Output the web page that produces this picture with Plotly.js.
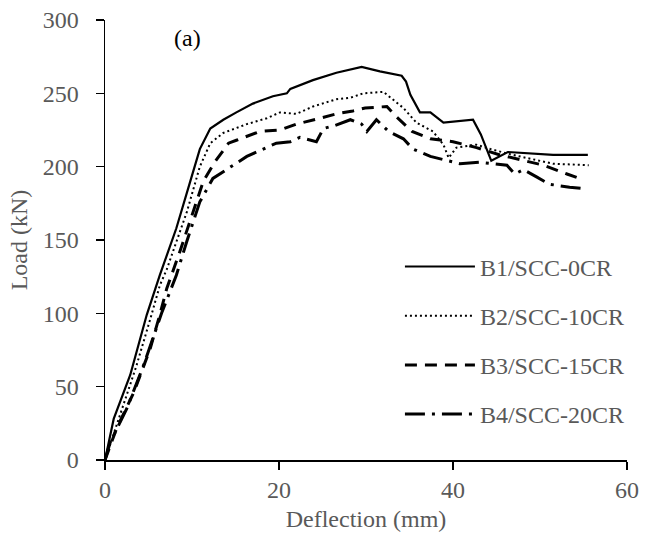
<!DOCTYPE html>
<html>
<head>
<meta charset="utf-8">
<script src="https://cdn.plot.ly/plotly-3.0.1.min.js"></script>
<style>html,body{margin:0;padding:0;background:#fff;}#chart{width:645px;height:547px;}</style>
</head>
<body>
<div id="chart"></div>
<script>
// Deflection (mm) and Load (kN)
const seriesNames = ["B1/SCC-0CR", "B2/SCC-10CR", "B3/SCC-15CR", "B4/SCC-20CR"];

const b1X = [0, 1.0, 2.9, 4.8, 6.3, 8.2, 9.8, 10.9, 12.1, 13.6, 15.1, 17.0, 19.3, 20.9, 21.3, 23.9, 26.6, 29.5, 31.6, 34.1, 34.6, 35.1, 36.2, 37.4, 38.9, 42.3, 43.2, 44.4, 46.3, 51.5, 55.5];
const b1Y = [0, 28, 58, 99, 126, 158, 190, 212, 226, 232, 237, 243, 248, 250, 253, 259, 264, 268, 265, 262, 258, 249, 237, 237, 230, 232, 222, 204, 210, 208, 208];

const b2X = [0, 1.7, 3.6, 5.2, 6.3, 7.1, 9.4, 10.9, 12.1, 13.6, 16.3, 18.6, 20.1, 22.0, 23.9, 26.6, 28.2, 29.7, 32.0, 34.3, 35.8, 37.7, 38.9, 39.5, 40.4, 42.7, 44.3, 46.9, 51.5, 55.6];
const b2Y = [0, 30, 64, 96, 119, 130, 169, 200, 216, 223, 229, 233, 237, 236, 241, 246, 247, 250, 251, 240, 230, 224, 215, 206, 213, 215, 212, 208, 202, 201];

const b3X = [0, 1.3, 3.3, 5.2, 6.3, 7.1, 8.6, 10.1, 11.3, 12.6, 14.2, 15.1, 17.8, 20.1, 22.0, 24.7, 26.6, 28.5, 29.9, 32.4, 33.5, 35.3, 37.4, 40.0, 42.7, 45.4, 48.1, 50.4, 53.1, 55.0];
const b3Y = [0, 21, 46, 76, 99, 117, 142, 169, 190, 203, 216, 218, 224, 225, 229, 233, 236, 238, 240, 241, 234, 224, 219, 217, 213, 208, 204, 201, 195, 191];

const b4X = [0, 0.6, 2.5, 4.4, 6.5, 8.2, 9.4, 10.9, 12.4, 14.4, 16.3, 17.8, 19.7, 21.3, 22.4, 24.3, 25.1, 26.4, 28.2, 29.5, 30.1, 31.2, 32.6, 34.3, 35.4, 37.4, 39.3, 40.8, 43.1, 46.2, 47.1, 48.1, 49.6, 51.1, 53.4, 55.0];
const b4Y = [0, 12, 35, 64, 100, 126, 149, 176, 192, 200, 207, 211, 216, 217, 220, 217, 226, 228, 232, 229, 224, 232, 224, 219, 212, 207, 204, 202, 203, 201, 195, 198, 193, 188, 186, 185];

const xTicks = [0, 20, 40, 60];
const yTicks = [0, 50, 100, 150, 200, 250, 300];

const font = "'Liberation Serif', 'Times New Roman', serif";
const grey = "#595959";

const styles = [
  {width: 2.2, dash: "solid"},
  {width: 2, dash: "2px,3px"},
  {width: 3, dash: "12px,8px"},
  {width: 3, dash: "20px,7px,3px,7px"}
];
const xs = [b1X, b2X, b3X, b4X];
const ys = [b1Y, b2Y, b3Y, b4Y];

const traces = seriesNames.map((n, i) => ({
  type: "scatter", mode: "lines", name: n,
  x: xs[i], y: ys[i], legendgroup: "g" + i,
  line: {color: "#000", width: styles[i].width, dash: styles[i].dash},
  hoverinfo: "skip"
}));

const layout = {
  width: 645, height: 547,
  margin: {l: 105, r: 18, t: 20, b: 87},
  paper_bgcolor: "#fff", plot_bgcolor: "#fff",
  font: {family: font, color: grey, size: 24},
  showlegend: true,
  legend: {
    x: 0.565, y: 0.49, xanchor: "left", yanchor: "top",
    font: {family: font, size: 24, color: grey},
    bgcolor: "rgba(0,0,0,0)", tracegroupgap: 15, itemwidth: 70
  },
  xaxis: {
    range: [0, 60], tickvals: xTicks, ticktext: xTicks.map(String),
    showgrid: false, zeroline: false, showline: true, linecolor: "#000", linewidth: 1.5,
    ticks: "outside", ticklen: 8, tickcolor: "#000", tickwidth: 1.5,
    tickfont: {family: font, size: 24, color: grey},
    title: {text: "Deflection (mm)", font: {family: font, size: 24, color: grey}, standoff: 8}
  },
  yaxis: {
    range: [0, 300], tickvals: yTicks, ticktext: yTicks.map(String),
    showgrid: false, zeroline: false, showline: true, linecolor: "#000", linewidth: 1.5,
    ticks: "outside", ticklen: 8, tickcolor: "#000", tickwidth: 1.5,
    ticklabelstandoff: 12,
    tickfont: {family: font, size: 24, color: grey},
    title: {text: "Load (kN)", font: {family: font, size: 24, color: grey}, standoff: 8}
  },
  annotations: [{
    text: "(a)", xref: "paper", yref: "paper", x: 0.158, y: 0.958,
    xanchor: "center", yanchor: "middle", showarrow: false,
    font: {family: font, size: 24, color: "#000"}
  }]
};

Plotly.newPlot("chart", traces, layout, {displayModeBar: false, staticPlot: true});
</script>
</body>
</html>
